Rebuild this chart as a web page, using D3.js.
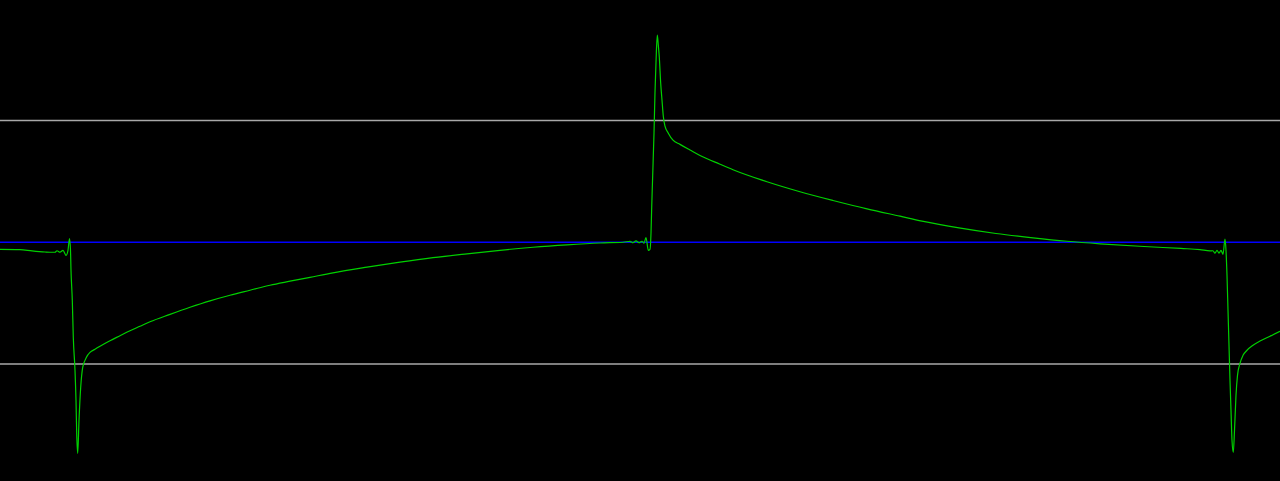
<!DOCTYPE html>
<html>
<head>
<meta charset="utf-8">
<script src="https://cdn.jsdelivr.net/npm/d3@7"></script>
<style>
html,body{margin:0;padding:0;background:#000;overflow:hidden;}
svg{display:block;}
</style>
</head>
<body>
<svg id="chart" width="1280" height="481"></svg>
<script>
// Time samples (arbitrary time units) and signal values (gray reference lines at ±1)
const times = [
  0, 20, 32, 45, 50, 55, 57, 60, 63, 66, 68, 69.5, 70.5,
  71, 72.3, 73.3, 75, 76, 76.7, 77.7, 79, 80.7, 82.7, 85, 87.5, 90, 95, 100, 110, 120, 130, 140,
  150, 170, 190, 210, 230, 250, 270, 290, 310, 333, 367, 400, 433, 467, 500, 533, 567, 600, 623,
  630, 633, 636, 639, 642, 644, 646, 648.3, 650,
  651, 651.7, 652.7, 654, 655, 656, 657.3, 658.3, 659.3, 660.7, 662, 663.3, 665, 668.3, 673,
  680, 690, 700, 720, 733, 767, 800, 833, 867, 900, 922, 959, 996, 1033, 1067, 1100, 1144, 1181,
  1200, 1210, 1213, 1215, 1217, 1219, 1221, 1223, 1225, 1226,
  1227, 1228, 1229, 1230, 1231, 1232, 1233.3, 1234.5, 1236, 1237.5, 1240, 1243, 1247, 1253, 1260, 1270, 1280
];
const signal = [
  -0.058, -0.060, -0.071, -0.080, -0.082, -0.082, -0.070, -0.082, -0.066, -0.107, -0.066, 0.029, -0.066,
  -0.230, -0.477, -0.781, -1.052, -1.298, -1.569, -1.734, -1.463, -1.191, -1.027, -0.970, -0.929, -0.904, -0.879, -0.855, -0.809, -0.768, -0.727, -0.690,
  -0.653, -0.592, -0.534, -0.481, -0.435, -0.394, -0.353, -0.320, -0.288, -0.251, -0.205, -0.164, -0.127, -0.095, -0.066, -0.041, -0.021, -0.006, 0.000,
  0.008, -0.004, 0.012, -0.004, 0.008, -0.008, 0.039, -0.066, -0.058,
  0.074, 0.288, 0.551, 0.896, 1.233, 1.479, 1.701, 1.619, 1.520, 1.306, 1.167, 1.035, 0.953, 0.896, 0.838,
  0.804, 0.758, 0.713, 0.641, 0.596, 0.497, 0.415, 0.343, 0.274, 0.214, 0.174, 0.118, 0.072, 0.036, 0.008, -0.013, -0.035, -0.051,
  -0.060, -0.071, -0.070, -0.090, -0.066, -0.090, -0.066, -0.099, 0.025, -0.066,
  -0.271, -0.559, -0.846, -1.134, -1.380, -1.627, -1.726, -1.545, -1.257, -1.093, -0.994, -0.929, -0.887, -0.846, -0.811, -0.772, -0.731
];
const limitLevels = [1, -1];
const baselineLevel = [0];

const W = 1280, H = 481;
const svg = d3.select("#chart");
svg.append("rect").attr("width", W).attr("height", H).attr("fill", "#000");

const x = d3.scaleLinear().domain([0, 1280]).range([0, W]);
const y = d3.scaleLinear().domain([-1, 1]).range([364, 120.5]);

svg.selectAll("line.limit").data(limitLevels).enter().append("line")
  .attr("class", "limit")
  .attr("x1", x(0)).attr("x2", x(1280))
  .attr("y1", d => y(d)).attr("y2", d => y(d))
  .attr("stroke", "#a8a8a8").attr("stroke-width", 1.3);

svg.selectAll("line.base").data(baselineLevel).enter().append("line")
  .attr("class", "base")
  .attr("x1", x(0)).attr("x2", x(1280))
  .attr("y1", d => y(d)).attr("y2", d => y(d))
  .attr("stroke", "#0000ff").attr("stroke-width", 1.4);

const pts = times.map((t, i) => [t, signal[i]]);
const line = d3.line().x(d => x(d[0])).y(d => y(d[1])).curve(d3.curveMonotoneX);
svg.append("path").datum(pts)
  .attr("d", line)
  .attr("fill", "none")
  .attr("stroke", "#00d000")
  .attr("stroke-width", 1.2)
  .attr("stroke-linejoin", "round");
</script>
</body>
</html>
